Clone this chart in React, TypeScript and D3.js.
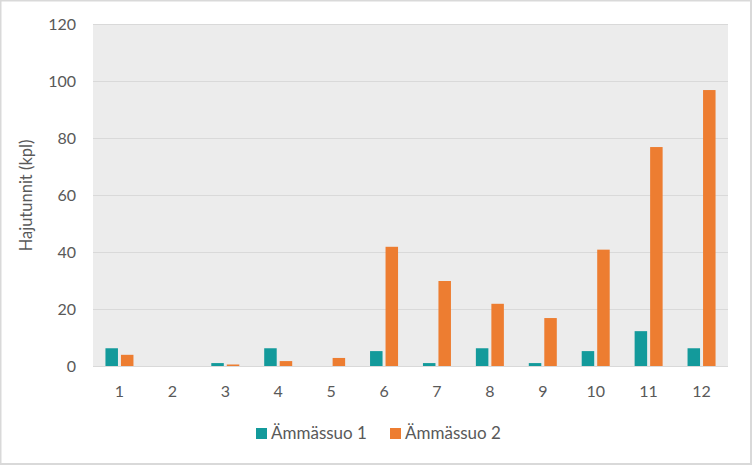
import React from "react";
import * as d3 from "d3";

const categories = ["1", "2", "3", "4", "5", "6", "7", "8", "9", "10", "11", "12"];
const series1 = [6.4, 0, 1.2, 6.4, 0, 5.4, 1.2, 6.4, 1.2, 5.4, 12.4, 6.4];
const series2 = [4.1, 0, 0.7, 1.9, 3.0, 42, 30, 22, 17, 41, 77, 97];
const seriesNames = ["Ämmässuo 1", "Ämmässuo 2"];
const yTicks = [0, 20, 40, 60, 80, 100, 120];
const colors = ["#139a9b", "#ed7d31"];

export default function App() {
  const W = 752, H = 465;
  const left = 93, right = 728, top = 24.5, bottom = 366.5;
  const x = d3.scaleBand().domain(categories).range([left, right]);
  const y = d3.scaleLinear().domain([0, 120]).range([bottom, top]);
  const bw = 12.5, gap = 3;
  const font = "Lato, 'Open Sans', sans-serif";
  const data = [series1, series2];
  return (
    <svg width={W} height={H} style={{ position: "absolute", left: 0, top: 0 }}>
      <rect x={0.5} y={0.5} width={W - 1.5} height={H - 1.5} fill="#fff" stroke="#d9d9d9" strokeWidth={2} />
      <rect x={left} y={top} width={right - left} height={bottom - top} fill="#ececec" />
      {yTicks.map((t) => (
        <g key={t}>
          {t > 0 && <line x1={left} x2={right} y1={y(t)} y2={y(t)} stroke="#d9d9d9" strokeWidth={1} />}
          <text x={76} y={y(t)} dy="0.35em" textAnchor="end" fontSize={16} fill="#595959" fontFamily={font}>{t}</text>
        </g>
      ))}
      {data.map((s, si) =>
        s.map((v, i) => {
          const c = x(categories[i])! + x.bandwidth() / 2;
          const bx = si === 0 ? c - gap / 2 - bw : c + gap / 2;
          return v > 0 ? (
            <rect key={si + "-" + i} x={bx} y={y(v)} width={bw} height={y(0) - y(v)} fill={colors[si]} />
          ) : null;
        })
      )}
      <line x1={left} x2={right} y1={bottom} y2={bottom} stroke="#d9d9d9" strokeWidth={1} />
      {categories.map((c) => (
        <text key={c} x={x(c)! + x.bandwidth() / 2} y={391} dy="0.35em" textAnchor="middle" fontSize={16} fill="#595959" fontFamily={font}>{c}</text>
      ))}
      <text transform={`translate(26,${(top + bottom) / 2}) rotate(-90)`} textAnchor="middle" dy="0.35em" fontSize={16.5} fill="#595959" fontFamily={font}>Hajutunnit (kpl)</text>
      {seriesNames.map((n, i) => {
        const lx = i === 0 ? 256 : 390;
        return (
          <g key={n}>
            <rect x={lx} y={428} width={11} height={11} fill={colors[i]} />
            <text x={lx + 15} y={433.5} dy="0.35em" fontSize={17} fill="#595959" fontFamily={font}>{n}</text>
          </g>
        );
      })}
    </svg>
  );
}
